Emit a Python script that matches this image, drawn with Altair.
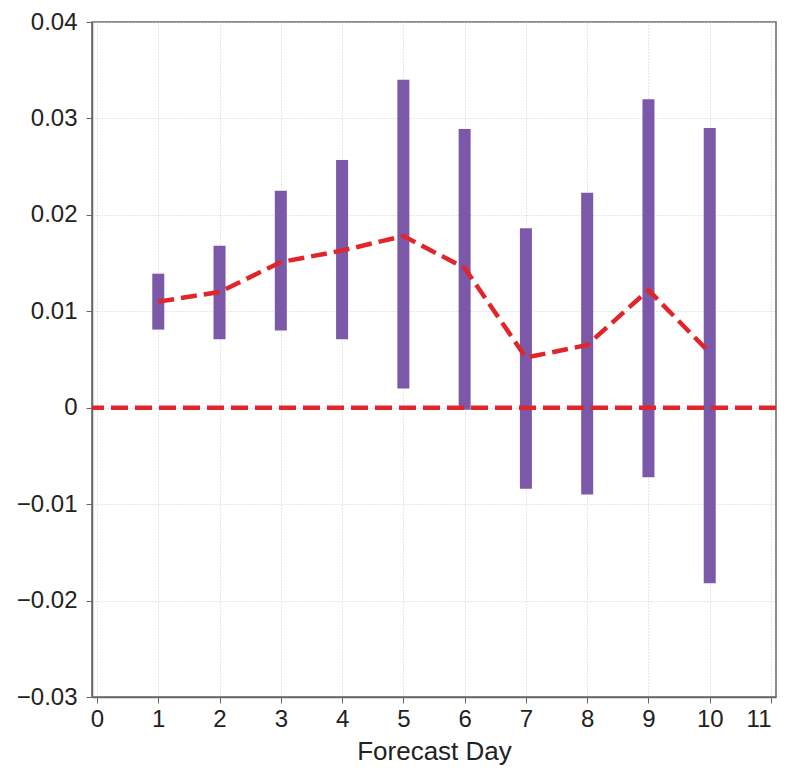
import altair as alt
import pandas as pd

days = [1, 2, 3, 4, 5, 6, 7, 8, 9, 10]
lower = [0.0081, 0.0071, 0.0080, 0.0071, 0.0020, -0.0002, -0.0084, -0.0090, -0.0072, -0.0182]
upper = [0.0139, 0.0168, 0.0225, 0.0257, 0.0340, 0.0289, 0.0186, 0.0223, 0.0320, 0.0290]
mean = [0.0110, 0.0120, 0.0151, 0.0163, 0.0178, 0.0145, 0.0052, 0.0065, 0.0122, 0.0057]

df = pd.DataFrame({"day": days, "lower": lower, "upper": upper, "mean": mean})

FONT = "Liberation Sans"
PURPLE = "#7b58a8"
RED = "#e0262b"

xscale = alt.Scale(domain=[0, 11], nice=False, zero=False)
yscale = alt.Scale(domain=[-0.03, 0.04], nice=False, zero=False)

xaxis = alt.Axis(
    values=list(range(0, 12)), title="Forecast Day", format="d",
    labelFontSize=24, titleFontSize=26, labelFont=FONT, titleFont=FONT,
    labelColor="#222", titleColor="#222", titleFontWeight="normal",
    tickSize=6, tickColor="#666", domainColor="#666", domainWidth=1.5,
    gridColor="#cfcfcf", gridDash=[1, 2], labelPadding=4, titlePadding=7,
    labelFlush=False,
    labelAlign={"condition": {"test": "datum.value == 11", "value": "right"}, "value": "center"},
)
yaxis = alt.Axis(
    values=[-0.03, -0.02, -0.01, 0, 0.01, 0.02, 0.03, 0.04], title=None,
    labelExpr="datum.value == 0 ? '0' : format(datum.value, '.2f')",
    labelFontSize=24, labelFont=FONT, labelColor="#222",
    tickSize=6, tickColor="#666", domainColor="#666", domainWidth=1.5,
    gridColor="#cfcfcf", gridDash=[1, 2], labelPadding=9, labelFlush=False,
)

base = alt.Chart(df)

bars = base.mark_bar(size=12, color=PURPLE).encode(
    x=alt.X("day:Q", scale=xscale, axis=xaxis),
    y=alt.Y("lower:Q", scale=yscale, axis=yaxis),
    y2="upper:Q",
)

line = base.mark_line(color=RED, strokeWidth=4.5, strokeDash=[16, 7]).encode(
    x=alt.X("day:Q", scale=xscale),
    y=alt.Y("mean:Q", scale=yscale),
)

zero = alt.Chart(pd.DataFrame({"z": [0.0]})).mark_rule(
    color=RED, strokeWidth=4.5, strokeDash=[17, 7]
).encode(y=alt.Y("z:Q", scale=yscale))

chart = alt.layer(bars, zero, line).properties(
    width=684, height=675,
    autosize=alt.AutoSizeParams(type="none"),
    padding={"left": 84, "top": 14, "right": 3, "bottom": 69},
    background="white",
).configure_view(stroke="#666", strokeWidth=1.5)

chart.save("out.html", embed_options={"renderer": "svg", "actions": False})
